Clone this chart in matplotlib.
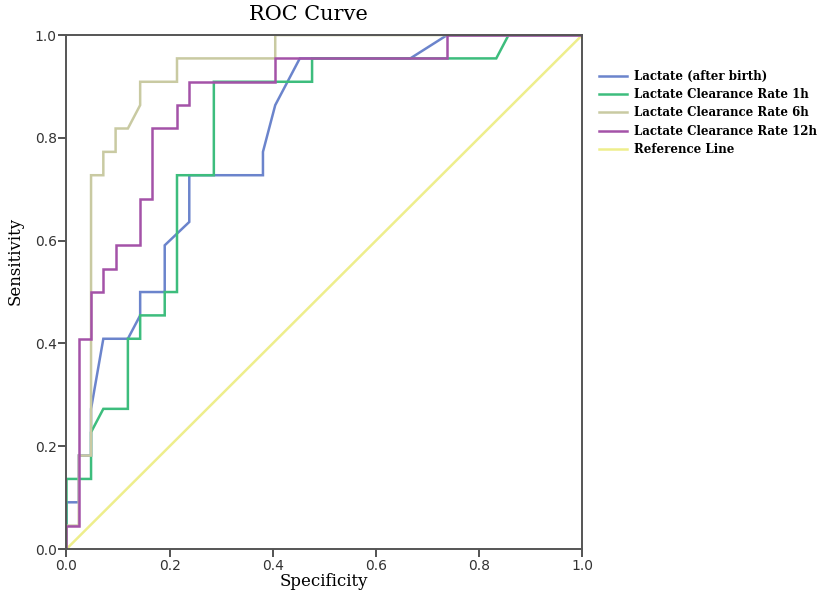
import numpy as np
import matplotlib
matplotlib.use("Agg")
import matplotlib.pyplot as plt

# ROC points (x = 1 - specificity, y = sensitivity)
# 22 positives, 42 negatives -> steps of 1/22 and 1/42
n_neg = 42
n_pos = 22

after_birth_x = [0, 0, 1, 1, 2, 2, 3, 5, 6, 6, 8, 8, 10, 10, 16, 16, 17, 18, 19, 28, 31, 42]
after_birth_y = [0, 2, 2, 4, 4, 6, 9, 9, 10, 11, 11, 13, 14, 16, 16, 17, 19, 20, 21, 21, 22, 22]

rate_1h_x = [0, 0, 2, 2, 3, 5, 5, 6, 6, 8, 8, 9, 9, 12, 12, 20, 20, 35, 36, 42]
rate_1h_y = [0, 3, 3, 5, 6, 6, 9, 9, 10, 10, 11, 11, 16, 16, 20, 20, 21, 21, 22, 22]

rate_6h_x = [0, 0, 1, 1, 2, 2, 3, 3, 4, 4, 5, 6, 6, 9, 9, 17, 17, 42]
rate_6h_y = [0, 1, 1, 4, 4, 16, 16, 17, 17, 18, 18, 19, 20, 20, 21, 21, 22, 22]

rate_12h_x = [0, 0, 1, 1, 2, 2, 3, 3, 4, 4, 6, 6, 7, 7, 9, 9, 10, 10, 17, 17, 31, 31, 42]
rate_12h_y = [0, 1, 1, 9, 9, 11, 11, 12, 12, 13, 13, 15, 15, 18, 18, 19, 19, 20, 20, 21, 21, 22, 22]

series = [
    ("Lactate (after birth)", after_birth_x, after_birth_y, "#6b84cc"),
    ("Lactate Clearance Rate 1h", rate_1h_x, rate_1h_y, "#3dbd7d"),
    ("Lactate Clearance Rate 6h", rate_6h_x, rate_6h_y, "#c9caa2"),
    ("Lactate Clearance Rate 12h", rate_12h_x, rate_12h_y, "#a452a8"),
]

ticks = [0.0, 0.2, 0.4, 0.6, 0.8, 1.0]
txt_font = "DejaVu Serif"

fig = plt.figure(figsize=(8.27, 5.92), dpi=100)
ax = fig.add_axes([0.0804, 0.0726, 0.6236, 0.8682])

# reference line first so it sits underneath
ax.plot([0, 1], [0, 1], color="#eeee8c", lw=1.8, zorder=1)
ref_handle, = ax.plot([], [], color="#eeee8c", lw=1.8)

handles = []
for name, xs, ys, col in series:
    h, = ax.plot(np.array(xs) / n_neg, np.array(ys) / n_pos, color=col, lw=1.8,
                 solid_joinstyle="miter", zorder=2)
    handles.append(h)
handles.append(ref_handle)
labels = [s[0] for s in series] + ["Reference Line"]

ax.set_xlim(0, 1)
ax.set_ylim(0, 1)
ax.set_xticks(ticks)
ax.set_yticks(ticks)
ax.set_xticklabels(["%.1f" % t for t in ticks])
ax.set_yticklabels(["%.1f" % t for t in ticks])
ax.tick_params(direction="out", length=6, width=1.3, color="#444444",
               labelsize=10, labelcolor="#333333", pad=1)
for sp in ax.spines.values():
    sp.set_linewidth(1.4)
    sp.set_color("#555555")

ax.set_xlabel("Specificity", fontsize=12, family=txt_font, labelpad=0)
ax.set_ylabel("Sensitivity", fontsize=12, family=txt_font)
ax.yaxis.set_label_coords(-0.083, 0.56)

fig.text(308 / 827, 1 - 15 / 592, "ROC Curve", fontsize=15, family=txt_font,
         ha="center", va="center")

fig.legend(handles, labels, loc="upper left", bbox_to_anchor=(0.718, 0.89),
           frameon=False, prop={"family": txt_font, "size": 8.5, "weight": "bold"},
           handlelength=2.4, handletextpad=0.6, labelspacing=0.45, borderaxespad=0)

fig.savefig("out.png", dpi=100)
